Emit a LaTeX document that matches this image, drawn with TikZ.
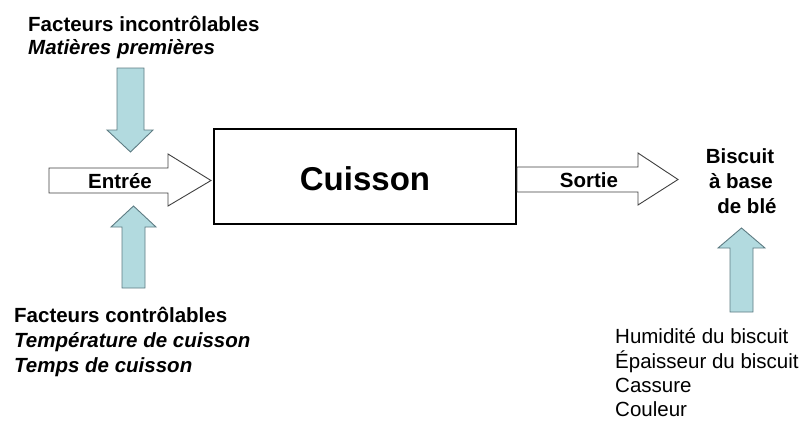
\documentclass[tikz,border=0pt]{standalone}
\usepackage{fontspec}
\setmainfont{Liberation Sans}
\definecolor{afill}{HTML}{B2DADF}
\definecolor{aline}{HTML}{5E7C83}
\begin{document}
\begin{tikzpicture}[x=1pt,y=-1pt,
  lab/.style={inner sep=0pt, font=\fontsize{20.5}{24}\selectfont},
  bluearrow/.style={fill=afill, draw=aline, line width=0.9pt, line join=miter},
  whitearrow/.style={fill=white, draw=black!75, line width=0.9pt, line join=miter},
  procbox/.style={draw=black, line width=2pt, fill=white}]
\useasboundingbox (0,0) rectangle (806,426);
% process box
\draw[procbox] (214,129) rectangle (516,224);
\node[inner sep=0pt, anchor=base, font=\fontsize{33}{38}\selectfont\bfseries] (cuisson) at (365,190) {Cuisson};
% entree arrow
\draw[whitearrow] (49,168) -- (168,168) -- (168,154) -- (211,180.5) -- (168,206) -- (168,193) -- (49,193) -- cycle;
\node[lab, anchor=base, font=\fontsize{20.5}{24}\selectfont\bfseries] (entree) at (120,188) {Entrée};
% sortie arrow
\draw[whitearrow] (517,167) -- (638,167) -- (638,153) -- (678,179.5) -- (638,205) -- (638,192) -- (517,192) -- cycle;
\node[lab, anchor=base, font=\fontsize{20.5}{24}\selectfont\bfseries] (sortie) at (589,187) {Sortie};
% top down arrow
\draw[bluearrow] (117,68) -- (144,68) -- (144,130) -- (153,130) -- (130.5,152) -- (107,130) -- (117,130) -- cycle;
% bottom-left up arrow
\draw[bluearrow] (122,288) -- (145,288) -- (145,227) -- (156,227) -- (133.5,206) -- (111,227) -- (122,227) -- cycle;
% right up arrow
\draw[bluearrow] (730,312) -- (753,312) -- (753,248) -- (765,248) -- (741.5,228) -- (718,248) -- (730,248) -- cycle;
% top-left texts
\node[lab, anchor=base west, font=\fontsize{20.5}{24}\selectfont\bfseries] (fi1) at (28,31) {Facteurs incontrôlables};
\node[lab, anchor=base west, font=\fontsize{20.5}{24}\selectfont\bfseries\itshape] (fi2) at (28,54) {Matières premières};
% bottom-left texts
\node[lab, anchor=base west, font=\fontsize{20.5}{24}\selectfont\bfseries] (fc1) at (14,322) {Facteurs contrôlables};
\node[lab, anchor=base west, font=\fontsize{20.5}{24}\selectfont\bfseries\itshape] (fc2) at (14,347) {Température de cuisson};
\node[lab, anchor=base west, font=\fontsize{20.5}{24}\selectfont\bfseries\itshape] (fc3) at (14,372) {Temps de cuisson};
% product
\node[lab, anchor=base, font=\fontsize{20.5}{24}\selectfont\bfseries] (b1) at (740,163) {Biscuit};
\node[lab, anchor=base, font=\fontsize{20.5}{24}\selectfont\bfseries] (b2) at (741,188) {à base};
\node[lab, anchor=base, font=\fontsize{20.5}{24}\selectfont\bfseries] (b3) at (747,213) {de blé};
% responses
\node[lab, anchor=base west] (r1) at (615,343) {Humidité du biscuit};
\node[lab, anchor=base west] (r2) at (615,368) {Épaisseur du biscuit};
\node[lab, anchor=base west] (r3) at (615,392) {Cassure};
\node[lab, anchor=base west] (r4) at (615,416) {Couleur};
\end{tikzpicture}
\end{document}
